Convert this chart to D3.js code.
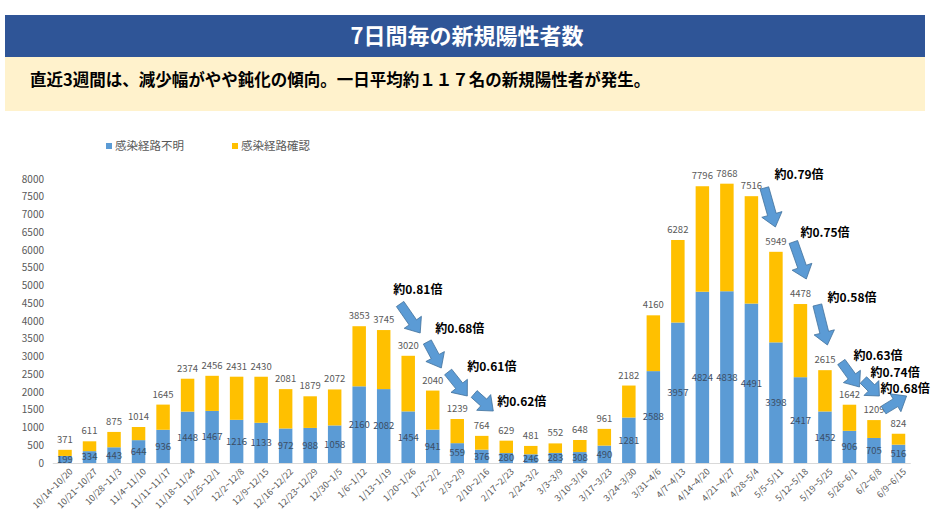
<!DOCTYPE html>
<html><head><meta charset="utf-8">
<script src="https://cdn.jsdelivr.net/npm/d3@7"></script>
<style>
body{margin:0;background:#fff;}
svg{display:block;font-family:"Noto Sans CJK JP","Noto Sans",sans-serif;}
</style></head>
<body><svg id="chart" width="934" height="511"></svg>
<script>
const titleText = "7日間毎の新規陽性者数";
const subtitleText = "直近3週間は、減少幅がやや鈍化の傾向。一日平均約１１７名の新規陽性者が発生。";
const seriesNames = ["感染経路不明", "感染経路確認"];
const categories = ["10/14~10/20","10/21~10/27","10/28~11/3","11/4~11/10","11/11~11/17","11/18~11/24","11/25~12/1","12/2~12/8","12/9~12/15","12/16~12/22","12/23~12/29","12/30~1/5","1/6~1/12","1/13~1/19","1/20~1/26","1/27~2/2","2/3~2/9","2/10~2/16","2/17~2/23","2/24~3/2","3/3~3/9","3/10~3/16","3/17~3/23","3/24~3/30","3/31~4/6","4/7~4/13","4/14~4/20","4/21~4/27","4/28~5/4","5/5~5/11","5/12~5/18","5/19~5/25","5/26~6/1","6/2~6/8","6/9~6/15"];
const unknownRoute = [199,334,443,644,936,1448,1467,1216,1133,972,988,1058,2160,2082,1454,941,559,376,280,246,283,308,490,1281,2588,3957,4824,4838,4491,3398,2417,1452,906,705,516];
const knownRoute = [172,277,432,370,709,926,989,1215,1297,1109,891,1014,1693,1663,1566,1099,680,388,349,235,269,340,471,901,1572,2325,2972,3030,3025,2551,2061,1163,736,504,308];
const totals = [371,611,875,1014,1645,2374,2456,2431,2430,2081,1879,2072,3853,3745,3020,2040,1239,764,629,481,552,648,961,2182,4160,6282,7796,7868,7516,5949,4478,2615,1642,1209,824];
const yTicks = [0,500,1000,1500,2000,2500,3000,3500,4000,4500,5000,5500,6000,6500,7000,7500,8000];
// annotations: positions given as (category index, value) in data space
const ratioLabels = ["約0.81倍","約0.68倍","約0.61倍","約0.62倍","約0.79倍","約0.75倍","約0.58倍","約0.63倍","約0.74倍","約0.68倍"];
const labelAt = [[13.39,4873],[15.10,3775],[16.41,2704],[17.63,1718],[28.94,8113],[30.0,6479],[31.10,4648],[32.16,3014],[32.86,2535],[33.27,2085]];
const arrowFrom = [[13.67,4479],[14.78,3408],[15.63,2563],[16.69,1944],[28.53,7746],[29.71,6225],[30.69,4451],[31.67,2845],[32.57,2338],[33.39,1493]];
const arrowTo = [[14.49,3662],[15.35,2676],[16.41,1887],[17.47,1465],[28.98,6648],[30.24,5183],[31.10,3324],[32.41,2141],[33.22,1887],[34.33,1887]];

const colors = {unknown:"#5B9BD5", known:"#FFC000", text:"#595959", inner:"#404040"};
const svg = d3.select("#chart");

// header
svg.append("rect").attr("x",5).attr("y",15).attr("width",920).attr("height",42).attr("fill","#2F5597");
svg.append("text").attr("x",467).attr("y",36).attr("dy","0.36em").attr("text-anchor","middle")
  .attr("fill","#fff").attr("font-size",22).attr("font-weight",700).text(titleText);
svg.append("rect").attr("x",5).attr("y",57).attr("width",920).attr("height",54).attr("fill","#FFF2CC");
svg.append("text").attr("x",30).attr("y",80).attr("dy","0.36em").attr("fill","#000")
  .attr("font-size",16.5).attr("font-weight",700).text(subtitleText);

// scales
const x = d3.scaleBand().domain(categories).range([52.75,910.75]).paddingInner(0.45).paddingOuter(0.225);
const y = d3.scaleLinear().domain([0,8000]).range([463,179]);
const step = x.step();
const xi = i => x(categories[0]) + x.bandwidth()/2 + i*step;

// y axis
const yAxis = d3.axisLeft(y).tickValues(yTicks).tickSize(0).tickPadding(0).tickFormat(d3.format("d"));
const ga = svg.append("g").attr("transform","translate(44,0)").call(yAxis);
ga.select(".domain").remove();
ga.selectAll("text").attr("fill",colors.text).attr("font-size",10).attr("font-family","'Noto Sans CJK JP',sans-serif");

// x axis
const xAxis = d3.axisBottom(x).tickSize(0).tickPadding(0);
const gx = svg.append("g").attr("transform","translate(0,463)").call(xAxis);
gx.select(".domain").attr("stroke","#D9D9D9").attr("d","M52.75,0.5H910.75");
gx.selectAll("text").attr("fill",colors.text).attr("font-size",9)
  .attr("font-family","'Noto Sans CJK JP',sans-serif")
  .attr("text-anchor","end").attr("transform","translate(6,7) rotate(-45)").attr("dy","0.35em").attr("y",0);

// stacked bars
const rows = categories.map((c,i)=>({c, u:unknownRoute[i], k:knownRoute[i], t:totals[i]}));
const stack = d3.stack().keys(["u","k"])(rows);
const fills = [colors.unknown, colors.known];
stack.forEach((layer,li)=>{
  svg.append("g").selectAll("rect").data(layer).join("rect")
    .attr("x",d=>x(d.data.c)).attr("width",x.bandwidth())
    .attr("y",d=>y(d[1])).attr("height",d=>y(d[0])-y(d[1]))
    .attr("fill",fills[li]);
});
// inner labels (unknown)
svg.append("g").selectAll("text").data(rows).join("text")
  .attr("x",d=>x(d.c)+x.bandwidth()/2).attr("y",d=>(y(0)+y(d.u))/2).attr("dy","0.36em")
  .attr("text-anchor","middle").attr("fill","#3B4E66").attr("font-size",9.5)
  .text(d=>d.u);
// total labels
svg.append("g").selectAll("text").data(rows).join("text")
  .attr("x",d=>x(d.c)+x.bandwidth()/2).attr("y",d=>y(d.t)-7)
  .attr("text-anchor","middle").attr("fill",colors.text).attr("font-size",9.5)
  .text(d=>d.t);

// legend
const leg = svg.append("g");
[[106,0],[232,1]].forEach(([lx,i])=>{
  leg.append("rect").attr("x",lx).attr("y",143).attr("width",6).attr("height",6).attr("fill",fills[i]);
  leg.append("text").attr("x",lx+9).attr("y",146).attr("dy","0.36em").attr("fill",colors.text)
    .attr("font-size",11.5).text(seriesNames[i]);
});

// arrows + ratio labels
function arrowPath(x1,y1,x2,y2){
  const dx=x2-x1, dy=y2-y1, L=Math.hypot(dx,dy), ux=dx/L, uy=dy/L, nx=-uy, ny=ux;
  const w=4.5, hw=10.5, hl=Math.min(13, L*0.5);
  const kx=x2-ux*hl, ky=y2-uy*hl;
  const p=[[x1+nx*w,y1+ny*w],[kx+nx*w,ky+ny*w],[kx+nx*hw,ky+ny*hw],[x2,y2],[kx-nx*hw,ky-ny*hw],[kx-nx*w,ky-ny*w],[x1-nx*w,y1-ny*w]];
  return "M"+p.map(q=>q[0].toFixed(1)+","+q[1].toFixed(1)).join("L")+"Z";
}
const ann = svg.append("g");
arrowFrom.forEach((f,i)=>{
  const t = arrowTo[i];
  ann.append("path").attr("d",arrowPath(xi(f[0]),y(f[1]),xi(t[0]),y(t[1])))
    .attr("fill","#5B9BD5").attr("stroke","#41719C").attr("stroke-width",0.8);
});
labelAt.forEach((p,i)=>{
  ann.append("text").attr("x",xi(p[0])).attr("y",y(p[1])).attr("dy","0.36em")
    .attr("fill","#000").attr("font-size",12).attr("font-weight",700).text(ratioLabels[i]);
});
</script></body></html>
